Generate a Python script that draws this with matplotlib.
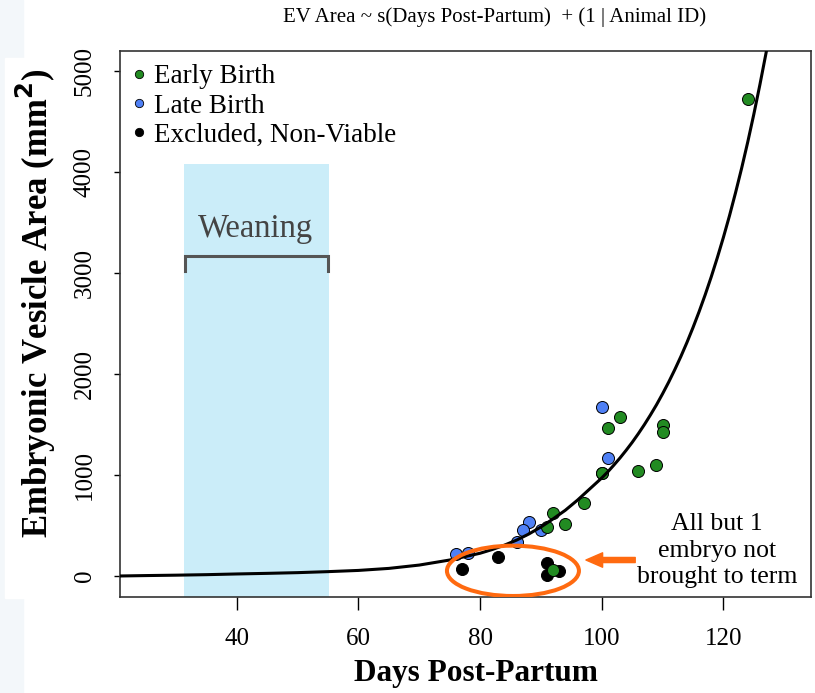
import numpy as np
import matplotlib
matplotlib.use("Agg")
import matplotlib.pyplot as plt
from matplotlib.lines import Line2D
from matplotlib.patches import Ellipse, Rectangle

plt.rcParams['font.family'] = ['Liberation Serif', 'DejaVu Serif']

early_days = [100, 103, 101, 110, 110, 100, 106, 109, 97, 92, 94, 91, 92, 124]
early_area = [1022, 1570, 1467, 1494, 1422, 1022, 1042, 1098, 719, 626, 515, 482, 59, 4720]
late_days = [100, 101, 88, 87, 90, 86, 76, 78]
late_area = [1669, 1165, 531, 455, 455, 339, 215, 225]
excl_days = [77, 83, 91, 91, 93]
excl_area = [66, 191, 126, 10, 52]

# fitted smooth
fit_days = [20.8, 25, 30, 35, 40, 45, 50, 55, 60, 65, 70, 75, 80, 82, 84, 86, 88, 90,
            92, 94, 96, 98, 100, 101, 102, 103, 104, 105, 106, 107, 108, 109, 110,
            111, 112, 113, 114, 115, 116, 117, 118, 119, 120, 121, 122, 123, 124,
            125, 126, 127, 127.4]
fit_area = [0, 4, 8, 13, 20, 26, 33, 43, 55, 75, 108, 158, 225, 262, 305, 355, 415, 485,
            565, 650, 750, 860, 970, 1031, 1098, 1168, 1243, 1322, 1407, 1497, 1593, 1694, 1803,
            1918, 2041, 2171, 2310, 2458, 2615, 2782, 2960, 3150, 3351, 3565, 3794, 4036, 4294,
            4569, 4862, 5172, 5300]

x_ticks = [40, 60, 80, 100, 120]
y_ticks = [0, 1000, 2000, 3000, 4000, 5000]

green = '#228b22'
blue = '#4f80f5'
orange = '#ff6a10'

fig = plt.figure(figsize=(8.15, 6.93), dpi=100)
fig.patches.append(Rectangle((0, 0), 23 / 815, 1, transform=fig.transFigure,
                             color='#f3f7fa', zorder=-10))
fig.patches.append(Rectangle((5 / 815, 95 / 693), 130 / 815, 540 / 693,
                             transform=fig.transFigure, color='white', zorder=-9))
ax = fig.add_axes([120 / 815, 96 / 693, 691 / 815, 546 / 693])
ax.set_facecolor('none')

# weaning window
ax.axvspan(31.4, 55.1, ymin=0, ymax=(4077 + 208) / (5195 + 208), color='#cbedf9', lw=0, zorder=0)
ax.plot([31.5, 31.5, 55.0, 55.0], [3021, 3166, 3166, 3021], color='#555555', lw=2.2,
        solid_joinstyle='miter', zorder=1)
ax.text(43.1, 3440, 'Weaning', ha='center', va='center', fontsize=23.5, color='#444444')

ax.scatter(excl_days, excl_area, s=75, c='black', edgecolors='black', lw=0.7, zorder=3)
ax.scatter(late_days, late_area, s=75, c=blue, edgecolors='black', lw=0.7, zorder=3)
ax.scatter(early_days, early_area, s=75, c=green, edgecolors='black', lw=0.7, zorder=3)
ax.plot(fit_days, fit_area, color='black', lw=2.2, zorder=4)

ax.add_patch(Ellipse((85.4, 51), 21.7, 498, fill=False, edgecolor=orange, lw=2.9, zorder=5))
ax.annotate('', xy=(97.4, 158), xytext=(105.5, 158),
            arrowprops=dict(arrowstyle='simple,tail_width=0.23,head_width=0.65,head_length=0.75',
                            color=orange, mutation_scale=16, shrinkA=0, shrinkB=0))
ax.text(118.9, 252, 'All but 1\nembryo not\nbrought to term', ha='center', va='center',
        fontsize=18.5, linespacing=1.28)

ax.set_xlim(20.8, 134.4)
ax.set_ylim(-208, 5195)
ax.set_xticks(x_ticks)
ax.set_yticks(y_ticks)
ax.tick_params(axis='x', labelsize=18, length=9, width=1, pad=13)
ax.tick_params(axis='y', labelsize=18, length=4.5, width=1, pad=13, labelrotation=90)
for lab in ax.get_yticklabels():
    lab.set_va('center')
for sp in ax.spines.values():
    sp.set_color('#333333')
    sp.set_linewidth(1.2)

handles = [Line2D([], [], ls='', marker='o', ms=6, mfc=green, mec='black', mew=0.6),
           Line2D([], [], ls='', marker='o', ms=6, mfc=blue, mec='black', mew=0.6),
           Line2D([], [], ls='', marker='o', ms=6, mfc='black', mec='black', mew=0.6)]
ax.legend(handles, ['Early Birth', 'Late Birth', 'Excluded, Non-Viable'], loc='upper left',
          bbox_to_anchor=(-0.016, 1.0055), frameon=False, fontsize=19.5, handletextpad=0.05,
          handlelength=1.0, labelspacing=0.16, borderaxespad=0.2)

fig.text(495 / 815, 1 - 17 / 693, 'EV Area ~ s(Days Post-Partum)  + (1 | Animal ID)',
         ha='center', va='center', fontsize=15)
fig.text(476 / 815, 1 - 674 / 693, 'Days Post-Partum', ha='center', va='center',
         fontsize=22.5, fontweight='bold')
fig.text(36 / 815, 1 - 303 / 693, 'Embryonic Vesicle Area (mm$^\\mathbf{2}$)', ha='center',
         va='center', rotation=90, fontsize=25, fontweight='bold')

fig.savefig('out.png', dpi=100)
